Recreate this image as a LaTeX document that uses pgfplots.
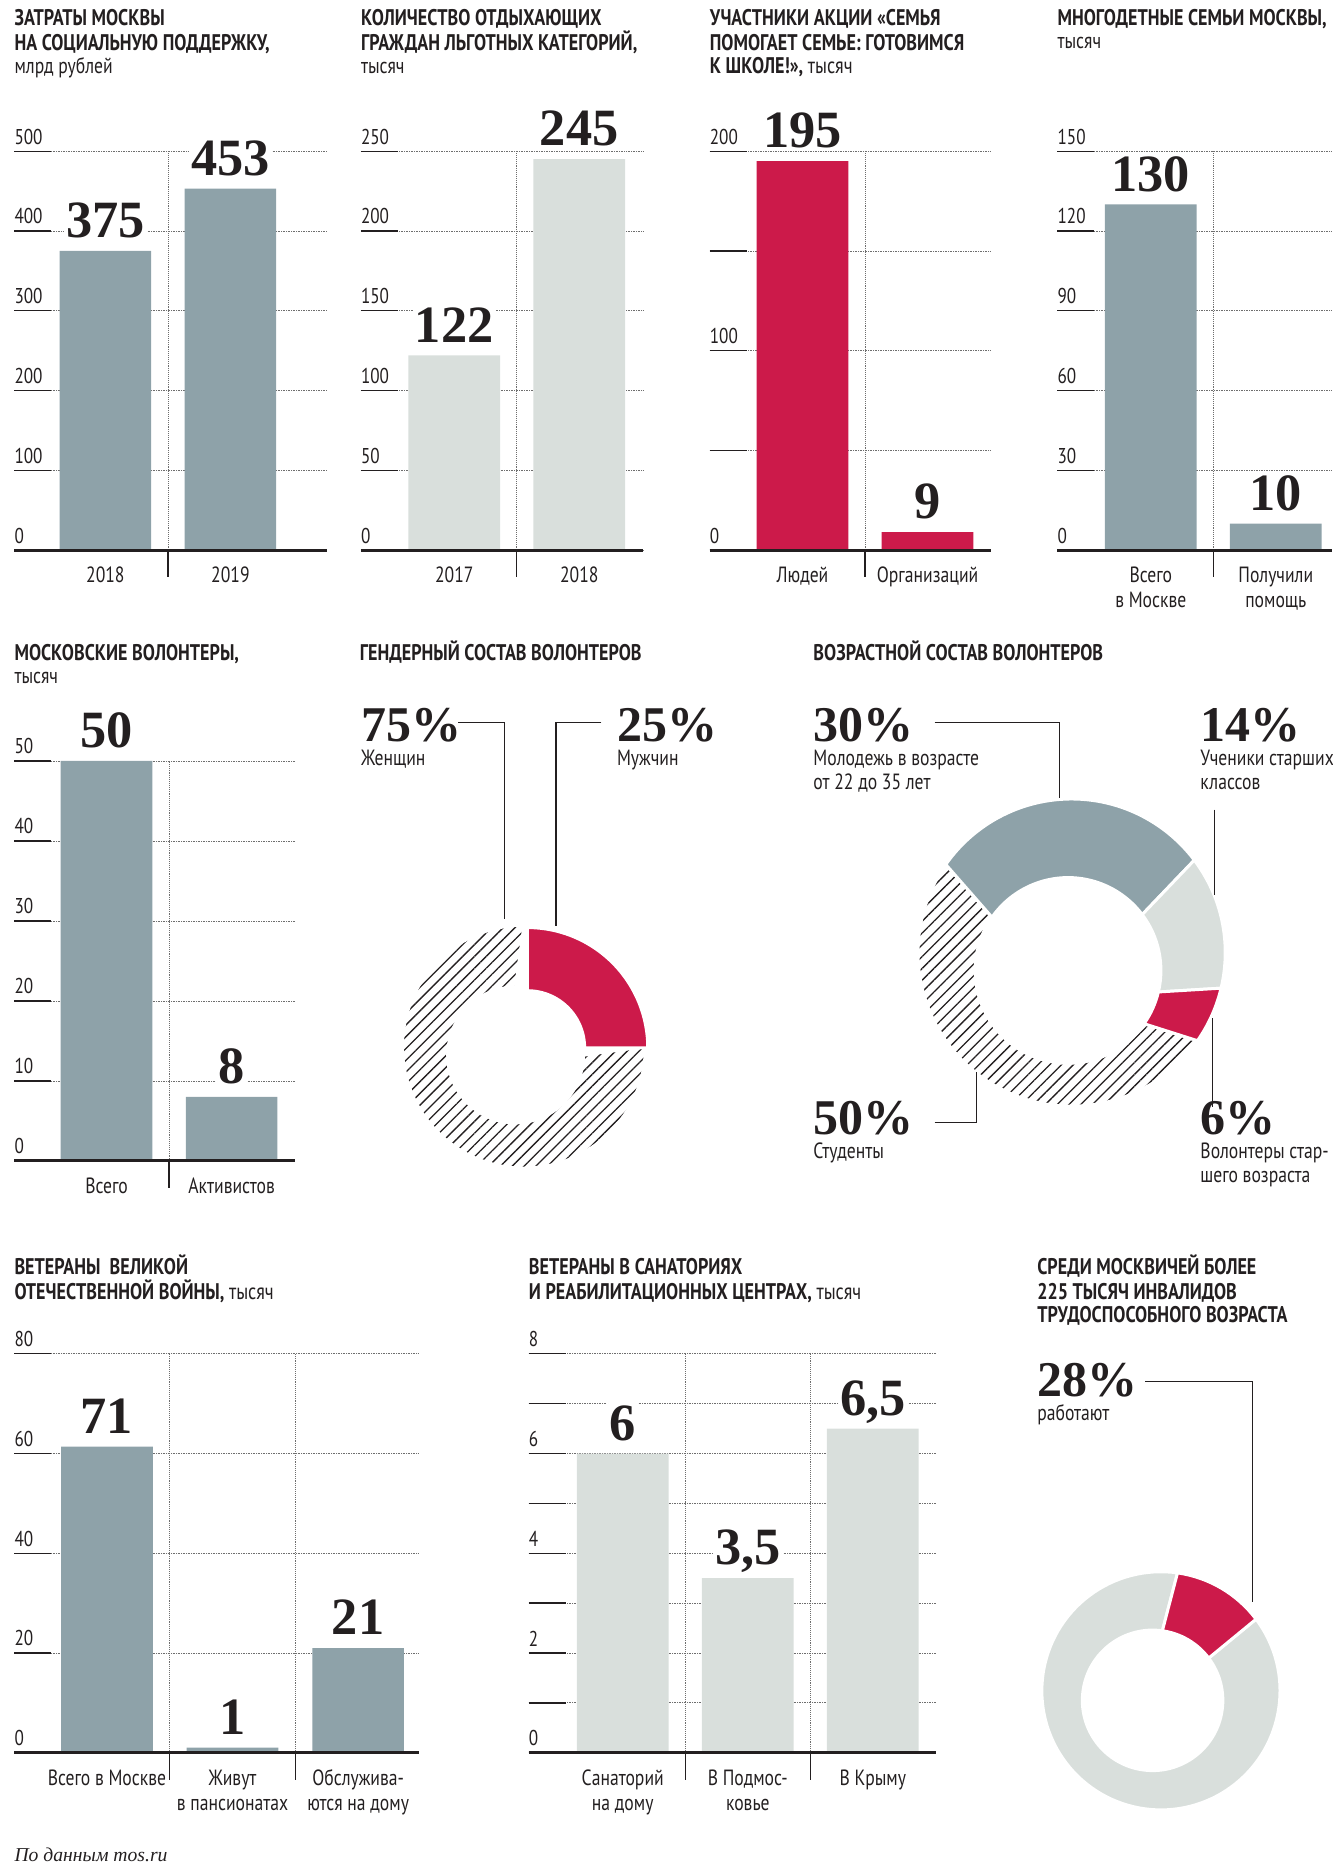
\documentclass[border=0pt]{standalone}
\usepackage{fontspec}
\usepackage{pgfplots}
\pgfplotsset{compat=1.18}
\usetikzlibrary{patterns.meta}
\setmainfont[FakeStretch=0.8]{PT Sans}
\newfontfamily\serif{Liberation Serif}
\definecolor{ink}{RGB}{35,31,32}
\definecolor{steel}{RGB}{142,162,169}
\definecolor{pale}{RGB}{217,223,220}
\definecolor{crim}{RGB}{204,26,74}
\definecolor{gridc}{RGB}{110,110,110}
\newcommand{\ttlfont}{\fontsize{19}{20.5}\selectfont\bfseries}
\newcommand{\subfont}{\fontsize{18.5}{20.5}\selectfont}
\newcommand{\labfont}{\fontsize{18.5}{21}\selectfont}
\newcommand{\tckfont}{\fontsize{18}{20}\selectfont}
\newcommand{\numfont}{\serif\bfseries\fontsize{44}{44}\selectfont}
\newcommand{\pctfont}{\serif\bfseries\fontsize{42}{42}\selectfont}
\newcommand{\T}[4]{\node[anchor=base west, inner sep=0pt, font=#3, text=ink, text depth=0pt] at (#1pt,-#2pt) {#4};}
\tikzset{
  sepline/.style={densely dotted, gridc, line width=0.6pt},
  septick/.style={ink, line width=1.1pt},
  baseln/.style={ink, line width=2.6pt},
}
\pgfplotsset{
  barax/.style={
    scale only axis, clip=false, enlargelimits=false,
    anchor=south west, ymin=0,
    axis x line*=bottom, axis y line*=left,
    axis line style={draw=none},
    tick align=inside, major tick length=31pt,
    ytick style={line width=1.1pt, color=ink},
    xtick style={draw=none},
    xticklabel style={font=\labfont, text=ink, align=center, anchor=north, inner sep=0pt, yshift=-14pt},
    yticklabel style={font=\tckfont, text=ink, anchor=south west, inner sep=0pt, yshift=5.5pt},
    ymajorgrids, major grid style={densely dotted, gridc, line width=0.6pt},
    /pgf/number format/assume math mode=true,
    nodes near coords, point meta=explicit symbolic,
    nodes near coords style={font=\numfont, text=ink, anchor=south, yshift=9pt, fill=white, inner sep=2pt, text depth=0pt},
  },
}
\newcommand{\donutseg}[9]{%
  \path[#9] (axis cs:#1,#2) ++(#7:#5pt) arc[start angle=#7, end angle=#8, radius=#5pt]
    -- ([shift={(#8:#6pt)}]axis cs:#3,#4) arc[start angle=#8, end angle=#7, radius=#6pt] -- cycle;}
\begin{document}
\begin{tikzpicture}
\path[use as bounding box] (0pt,0pt) rectangle (1119pt,-1568pt);

% ---------- titles ----------
\T{12}{21}{\ttlfont}{ЗАТРАТЫ МОСКВЫ}
\T{12}{42}{\ttlfont}{НА СОЦИАЛЬНУЮ ПОДДЕРЖКУ,}
\T{12}{62}{\subfont}{млрд рублей}
\T{303}{21}{\ttlfont}{КОЛИЧЕСТВО ОТДЫХАЮЩИХ}
\T{303}{42}{\ttlfont}{ГРАЖДАН ЛЬГОТНЫХ КАТЕГОРИЙ,}
\T{303}{62}{\subfont}{тысяч}
\T{596}{21}{\ttlfont}{УЧАСТНИКИ АКЦИИ «СЕМЬЯ}
\T{596}{42}{\ttlfont}{ПОМОГАЕТ СЕМЬЕ: ГОТОВИМСЯ}
\T{596}{62}{\ttlfont}{К ШКОЛЕ!», {\mdseries тысяч}}
\T{888}{21}{\ttlfont}{МНОГОДЕТНЫЕ СЕМЬИ МОСКВЫ,}
\T{888}{41}{\subfont}{тысяч}
\T{12}{555}{\ttlfont}{МОСКОВСКИЕ ВОЛОНТЕРЫ,}
\T{12}{574}{\subfont}{тысяч}
\T{302}{555}{\ttlfont}{ГЕНДЕРНЫЙ СОСТАВ ВОЛОНТЕРОВ}
\T{683}{555}{\ttlfont}{ВОЗРАСТНОЙ СОСТАВ ВОЛОНТЕРОВ}
\T{12}{1070}{\ttlfont}{ВЕТЕРАНЫ \ ВЕЛИКОЙ}
\T{12}{1091}{\ttlfont}{ОТЕЧЕСТВЕННОЙ ВОЙНЫ, {\mdseries тысяч}}
\T{444}{1070}{\ttlfont}{ВЕТЕРАНЫ В САНАТОРИЯХ}
\T{444}{1091}{\ttlfont}{И РЕАБИЛИТАЦИОННЫХ ЦЕНТРАХ, {\mdseries тысяч}}
\T{871}{1070}{\ttlfont}{СРЕДИ МОСКВИЧЕЙ БОЛЕЕ}
\T{871}{1091}{\ttlfont}{225 ТЫСЯЧ ИНВАЛИДОВ}
\T{871}{1111}{\ttlfont}{ТРУДОСПОСОБНОГО ВОЗРАСТА}

% ---------- panel 1 ----------
\begin{axis}[barax, at={(12pt,-462pt)}, width=263pt, height=335pt,
  xmin=-0.7286, xmax=1.7762, ymax=500, ytick={0,100,...,500},
  xtick={0,1}, xticklabels={2018,2019}]
  \draw[sepline] (axis cs:0.5,0) -- (axis cs:0.5,500);
  \draw[septick] (axis cs:0.5,0) -- ++(0pt,-23pt);
  \addplot[ybar, bar width=77pt, fill=steel, draw=none] coordinates {(0,375) [375] (1,453) [453]};
  \draw[baseln] (rel axis cs:0,0) -- (rel axis cs:1,0);
\end{axis}
% ---------- panel 2 ----------
\begin{axis}[barax, at={(303pt,-462pt)}, width=237pt, height=335pt,
  xmin=-0.7476, xmax=1.5095, ymax=250, ytick={0,50,...,250},
  xtick={0,1}, xticklabels={2017,2018}]
  \draw[sepline] (axis cs:0.5,0) -- (axis cs:0.5,250);
  \draw[septick] (axis cs:0.5,0) -- ++(0pt,-23pt);
  \addplot[ybar, bar width=77pt, fill=pale, draw=none] coordinates {(0,122) [122] (1,245) [245]};
  \draw[baseln] (rel axis cs:0,0) -- (rel axis cs:1,0);
\end{axis}
% ---------- panel 3 ----------
\begin{axis}[barax, at={(596pt,-462pt)}, width=236pt, height=335pt,
  xmin=-0.7429, xmax=1.5048, ymax=200, ytick={0,50,...,200}, yticklabels={0,,100,,200},
  xtick={0,1}, xticklabels={Людей,Организаций}]
  \draw[sepline] (axis cs:0.5,0) -- (axis cs:0.5,200);
  \draw[septick] (axis cs:0.5,0) -- ++(0pt,-23pt);
  \addplot[ybar, bar width=77pt, fill=crim, draw=none] coordinates {(0,195) [195] (1,9) [9]};
  \draw[baseln] (rel axis cs:0,0) -- (rel axis cs:1,0);
\end{axis}
% ---------- panel 4 ----------
\begin{axis}[barax, at={(888pt,-462pt)}, width=231pt, height=335pt,
  xmin=-0.7476, xmax=1.4524, ymax=150, ytick={0,30,...,150},
  xtick={0,1}, xticklabels={{Всего\\в Москве},{Получили\\помощь}}]
  \draw[sepline] (axis cs:0.5,0) -- (axis cs:0.5,150);
  \draw[septick] (axis cs:0.5,0) -- ++(0pt,-23pt);
  \addplot[ybar, bar width=77pt, fill=steel, draw=none] coordinates {(0,130) [130] (1,10) [10]};
  \draw[baseln] (rel axis cs:0,0) -- (rel axis cs:1,0);
\end{axis}
% ---------- panel 5 ----------
\begin{axis}[barax, at={(12pt,-975pt)}, width=236pt, height=336pt,
  xmin=-0.7381, xmax=1.5095, ymax=50, ytick={0,10,...,50},
  xtick={0,1}, xticklabels={Всего,Активистов}]
  \draw[sepline] (axis cs:0.5,0) -- (axis cs:0.5,50);
  \draw[septick] (axis cs:0.5,0) -- ++(0pt,-23pt);
  \addplot[ybar, bar width=77pt, fill=steel, draw=none] coordinates {(0,50) [50] (1,8) [8]};
  \draw[baseln] (rel axis cs:0,0) -- (rel axis cs:1,0);
\end{axis}
% ---------- panel 8 ----------
\begin{axis}[barax, at={(12pt,-1472pt)}, width=340pt, height=335pt,
  xmin=-0.7381, xmax=2.4857, ymax=80, ytick={0,20,...,80},
  xtick={0,1,2}, xticklabels={{Всего в Москве},{Живут\\в пансионатах},{Обслужива-\\ются на дому}}]
  \draw[sepline] (axis cs:0.5,0) -- (axis cs:0.5,80);
  \draw[septick] (axis cs:0.5,0) -- ++(0pt,-23pt);
  \draw[sepline] (axis cs:1.5,0) -- (axis cs:1.5,80);
  \draw[septick] (axis cs:1.5,0) -- ++(0pt,-23pt);
  \addplot[ybar, bar width=77pt, fill=steel, draw=none] coordinates {(0,61.4) [71] (1,1) [1] (2,21) [21]};
  \draw[baseln] (rel axis cs:0,0) -- (rel axis cs:1,0);
\end{axis}
% ---------- panel 9 ----------
\begin{axis}[barax, at={(444pt,-1472pt)}, width=342pt, height=335pt,
  xmin=-0.7524, xmax=2.5048, ymax=8, ytick={0,1,...,8}, yticklabels={0,,2,,4,,6,,8},
  xtick={0,1,2}, xticklabels={{Санаторий\\на дому},{В Подмос-\\ковье},{В Крыму}}]
  \draw[sepline] (axis cs:0.5,0) -- (axis cs:0.5,8);
  \draw[septick] (axis cs:0.5,0) -- ++(0pt,-23pt);
  \draw[sepline] (axis cs:1.5,0) -- (axis cs:1.5,8);
  \draw[septick] (axis cs:1.5,0) -- ++(0pt,-23pt);
  \addplot[ybar, bar width=77pt, fill=pale, draw=none] coordinates {(0,6) [6] (1,3.5) [{3,5}] (2,6.5) [{6,5}]};
  \draw[baseln] (rel axis cs:0,0) -- (rel axis cs:1,0);
\end{axis}

% ---------- donuts: angles from percentages ----------
\pgfmathsetmacro\gA{90}\pgfmathsetmacro\gB{90-25*3.6}\pgfmathsetmacro\gC{\gB-75*3.6}
\pgfmathsetmacro\aA{145}\pgfmathsetmacro\aB{\aA-30*3.6}\pgfmathsetmacro\aC{\aB-14*3.6}
\pgfmathsetmacro\aD{\aC-6*3.6}\pgfmathsetmacro\aE{\aD-50*3.6}
\pgfmathsetmacro\dA{82}\pgfmathsetmacro\dB{\dA-12.5*3.6}\pgfmathsetmacro\dC{\dB-87.5*3.6}

\begin{axis}[at={(0pt,0pt)}, anchor=north west, x=1pt, y=1pt, xmin=0, xmax=1119, ymin=-1568, ymax=0,
  hide axis, clip=false, disabledatascaling]
  \donutseg{440}{-879}{433}{-886}{102}{57}{\gB}{\gC}{pattern={Lines[angle=45,distance=7pt,line width=1.1pt]}, pattern color=ink, draw=white, line width=2.5pt}
  \donutseg{443}{-880}{443}{-880}{101}{48}{\gA}{\gB}{fill=crim, draw=white, line width=2.5pt}
  \donutseg{900}{-800}{897}{-815}{129}{78}{\aD}{\aE}{pattern={Lines[angle=45,distance=7pt,line width=1.1pt]}, pattern color=ink, draw=white, line width=2.5pt}
  \donutseg{900}{-800}{897}{-815}{129}{78}{\aA}{\aB}{fill=steel, draw=white, line width=2.5pt}
  \donutseg{900}{-800}{897}{-815}{129}{78}{\aB}{\aC}{fill=pale, draw=white, line width=2.5pt}
  \donutseg{900}{-800}{897}{-815}{129}{78}{\aC}{\aD}{fill=crim, draw=white, line width=2.5pt}
  \donutseg{975}{-1420}{968}{-1428}{100}{59}{\dB}{\dC}{fill=pale, draw=white, line width=2.5pt}
  \donutseg{975}{-1420}{968}{-1428}{100}{59}{\dA}{\dB}{fill=crim, draw=white, line width=2.5pt}
  \draw[ink, line width=1pt] (axis cs:385,-607) -| (axis cs:424,-772);
  \draw[ink, line width=1pt] (axis cs:505,-607) -| (axis cs:467,-778);
  \draw[ink, line width=1pt] (axis cs:785,-607) -| (axis cs:890,-670);
  \draw[ink, line width=1pt] (axis cs:1020,-680) -- (axis cs:1020,-752);
  \draw[ink, line width=1pt] (axis cs:785,-943) -| (axis cs:820,-900);
  \draw[ink, line width=1pt] (axis cs:1018,-855) -- (axis cs:1018,-930);
  \draw[ink, line width=1pt] (axis cs:962,-1160) -| (axis cs:1052,-1345);
\end{axis}

% ---------- donut labels ----------
\T{303}{623}{\pctfont}{75\%}
\T{303}{643}{\labfont}{Женщин}
\T{518}{623}{\pctfont}{25\%}
\T{518}{643}{\labfont}{Мужчин}
\T{683}{623}{\pctfont}{30\%}
\T{683}{643}{\labfont}{Молодежь в возрасте}
\T{683}{663}{\labfont}{от 22 до 35 лет}
\T{1008}{623}{\pctfont}{14\%}
\T{1008}{643}{\labfont}{Ученики старших}
\T{1008}{663}{\labfont}{классов}
\T{683}{953}{\pctfont}{50\%}
\T{683}{973}{\labfont}{Студенты}
\T{1008}{953}{\pctfont}{6\%}
\T{1008}{973}{\labfont}{Волонтеры стар-}
\T{1008}{993}{\labfont}{шего возраста}
\T{871}{1173}{\pctfont}{28\%}
\T{871}{1193}{\labfont}{работают}

% ---------- footer ----------
\T{12}{1563}{\serif\itshape\fontsize{16.5}{18}\selectfont}{По данным mos.ru}
\end{tikzpicture}
\end{document}
